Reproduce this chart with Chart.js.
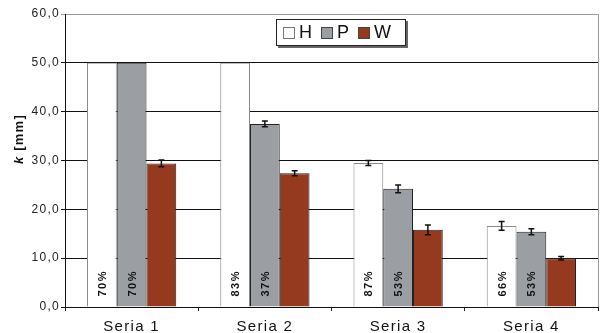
<!DOCTYPE html>
<html>
<head>
<meta charset="utf-8">
<script src="https://cdn.jsdelivr.net/npm/chart.js@4/dist/chart.umd.min.js"></script>
<style>
  html, body { margin: 0; padding: 0; background: #fff; }
  #wrap { position: relative; width: 600px; height: 333px; overflow: hidden; }
  #legend {
    position: absolute; left: 276px; top: 19px; width: 130px; height: 27px;
    border: 1px solid #222; box-shadow: 2px 2px 0 #666; background: #fff;
    display: flex; align-items: center; justify-content: flex-start; padding-left: 6px; box-sizing: border-box;
    font-family: "Liberation Sans", Arial, sans-serif; font-size: 18px; color: #111;
  }
  #legend span.item { display: flex; align-items: center; margin-right: 9px; }
  #legend span.sw { display: inline-block; width: 12px; height: 12px; margin-right: 4px; box-sizing: border-box; }
</style>
</head>
<body>
<div id="wrap">
  <canvas id="c" width="600" height="333"></canvas>
  <div id="legend"></div>
</div>
<script>
// Categories and series
const categories = ["Seria 1", "Seria 2", "Seria 3", "Seria 4"];
const seriesNames = ["H", "P", "W"];
const valuesH = [50.0, 50.0, 29.5, 16.6];
const valuesP = [50.0, 37.5, 24.2, 15.4];
const valuesW = [29.4, 27.4, 15.8, 10.0];
// Error bar half-widths
const errH = [null, null, 0.5, 0.9];
const errP = [null, 0.6, 0.8, 0.6];
const errW = [0.7, 0.5, 1.0, 0.35];
// Percentage labels written inside the bars
const pctH = ["70%", "83%", "87%", "66%"];
const pctP = ["70%", "37%", "53%", "53%"];
const pctW = [null, null, null, null];
// Axis ticks
const yTicks = [0, 10, 20, 30, 40, 50, 60];

const fills = ["#ffffff", "#9b9ea2", "#963a1f"];
const borders = ["#8a8a8a", "#222222", "#222222"];
const FONT = '"Liberation Sans", Arial, sans-serif';

const errs = [errH, errP, errW];
const pcts = [pctH, pctP, pctW];

const decor = {
  id: 'decor',
  beforeDraw(chart) {
    chart.ctx.letterSpacing = '1.3px';
  },
  beforeDatasetsDraw(chart) {
    const { ctx, chartArea: a } = chart;
    ctx.save();
    ctx.strokeStyle = '#9a9a9a';
    ctx.lineWidth = 1;
    ctx.beginPath();
    ctx.moveTo(Math.round(a.right) + 0.5, a.top);
    ctx.lineTo(Math.round(a.right) + 0.5, a.bottom);
    ctx.stroke();
    ctx.restore();
  },
  afterDatasetsDraw(chart) {
    const { ctx } = chart;
    const y = chart.scales.y;
    ctx.save();
    chart.data.datasets.forEach((ds, di) => {
      const meta = chart.getDatasetMeta(di);
      meta.data.forEach((bar, i) => {
        const e = errs[di][i];
        if (e != null) {
          const v = ds.data[i];
          const y1 = y.getPixelForValue(v + e), y2 = y.getPixelForValue(v - e);
          ctx.strokeStyle = '#111';
          ctx.lineWidth = 1.5;
          ctx.beginPath();
          ctx.moveTo(bar.x, y1); ctx.lineTo(bar.x, y2);
          ctx.moveTo(bar.x - 3, y1); ctx.lineTo(bar.x + 3, y1);
          ctx.moveTo(bar.x - 3, y2); ctx.lineTo(bar.x + 3, y2);
          ctx.stroke();
        }
        const p = pcts[di][i];
        if (p) {
          ctx.save();
          ctx.translate(bar.x + 4, bar.base - 10);
          ctx.rotate(-Math.PI / 2);
          ctx.font = 'bold 11px ' + FONT;
          ctx.letterSpacing = '1.5px';
          ctx.fillStyle = '#111';
          ctx.textAlign = 'left';
          ctx.textBaseline = 'alphabetic';
          ctx.fillText(p, 0, 0);
          ctx.restore();
        }
      });
    });
    ctx.restore();
  },
  afterDraw(chart) {
    const { ctx } = chart;
    ctx.save();
    // y axis title: italic k followed by the unit
    ctx.translate(23, 139);
    ctx.rotate(-Math.PI / 2);
    ctx.fillStyle = '#111';
    ctx.textBaseline = 'alphabetic';
    ctx.letterSpacing = '1.2px';
    ctx.font = 'italic bold 13px ' + FONT;
    const w1 = ctx.measureText('k').width;
    const rest = ' [mm]';
    ctx.font = 'bold 13px ' + FONT;
    const w2 = ctx.measureText(rest).width;
    const x0 = -(w1 + w2) / 2;
    ctx.font = 'italic bold 13px ' + FONT;
    ctx.textAlign = 'left';
    ctx.fillText('k', x0, 0);
    ctx.font = 'bold 13px ' + FONT;
    ctx.fillText(rest, x0 + w1, 0);
    ctx.restore();
  }
};

const chart = new Chart(document.getElementById('c'), {
  type: 'bar',
  data: {
    labels: categories,
    datasets: [valuesH, valuesP, valuesW].map((d, i) => ({
      label: seriesNames[i],
      data: d,
      backgroundColor: fills[i],
      borderColor: borders[i],
      borderWidth: 1,
      borderSkipped: 'bottom',
      barPercentage: 1.0,
      categoryPercentage: 0.67
    }))
  },
  options: {
    responsive: false,
    animation: false,
    devicePixelRatio: 1,
    layout: { padding: { left: 0, right: 2, top: 14, bottom: 0 } },
    plugins: { legend: { display: false }, tooltip: { enabled: false } },
    scales: {
      x: {
        afterFit(s) { s.height = 26; },
        grid: {
          offset: true, drawOnChartArea: false, drawTicks: true, tickLength: 4,
          color: '#222'
        },
        border: { color: '#111', width: 1 },
        ticks: { color: '#111', padding: 7, font: { family: FONT, size: 15 } }
      },
      y: {
        min: 0, max: 60,
        afterFit(s) { s.width = 65; },
        afterBuildTicks(s) { s.ticks = yTicks.map(v => ({ value: v })); },
        grid: {
          drawTicks: true, tickLength: 4,
          color: c => (c.tick && c.tick.value === 60) ? '#9a9a9a' : '#111',
          lineWidth: 1
        },
        border: { color: '#111', width: 1 },
        ticks: {
          color: '#222', padding: 1,
          font: { family: FONT, size: 12 },
          callback: v => v.toFixed(1).replace('.', ',')
        }
      }
    }
  },
  plugins: [decor]
});

// legend built from the datasets
const lg = document.getElementById('legend');
chart.data.datasets.forEach((ds, i) => {
  const it = document.createElement('span');
  it.className = 'item';
  const sw = document.createElement('span');
  sw.className = 'sw';
  sw.style.background = ds.backgroundColor;
  sw.style.border = '1px solid ' + (i === 0 ? '#777' : '#444');
  it.appendChild(sw);
  it.appendChild(document.createTextNode(ds.label));
  lg.appendChild(it);
});
</script>
</body>
</html>
